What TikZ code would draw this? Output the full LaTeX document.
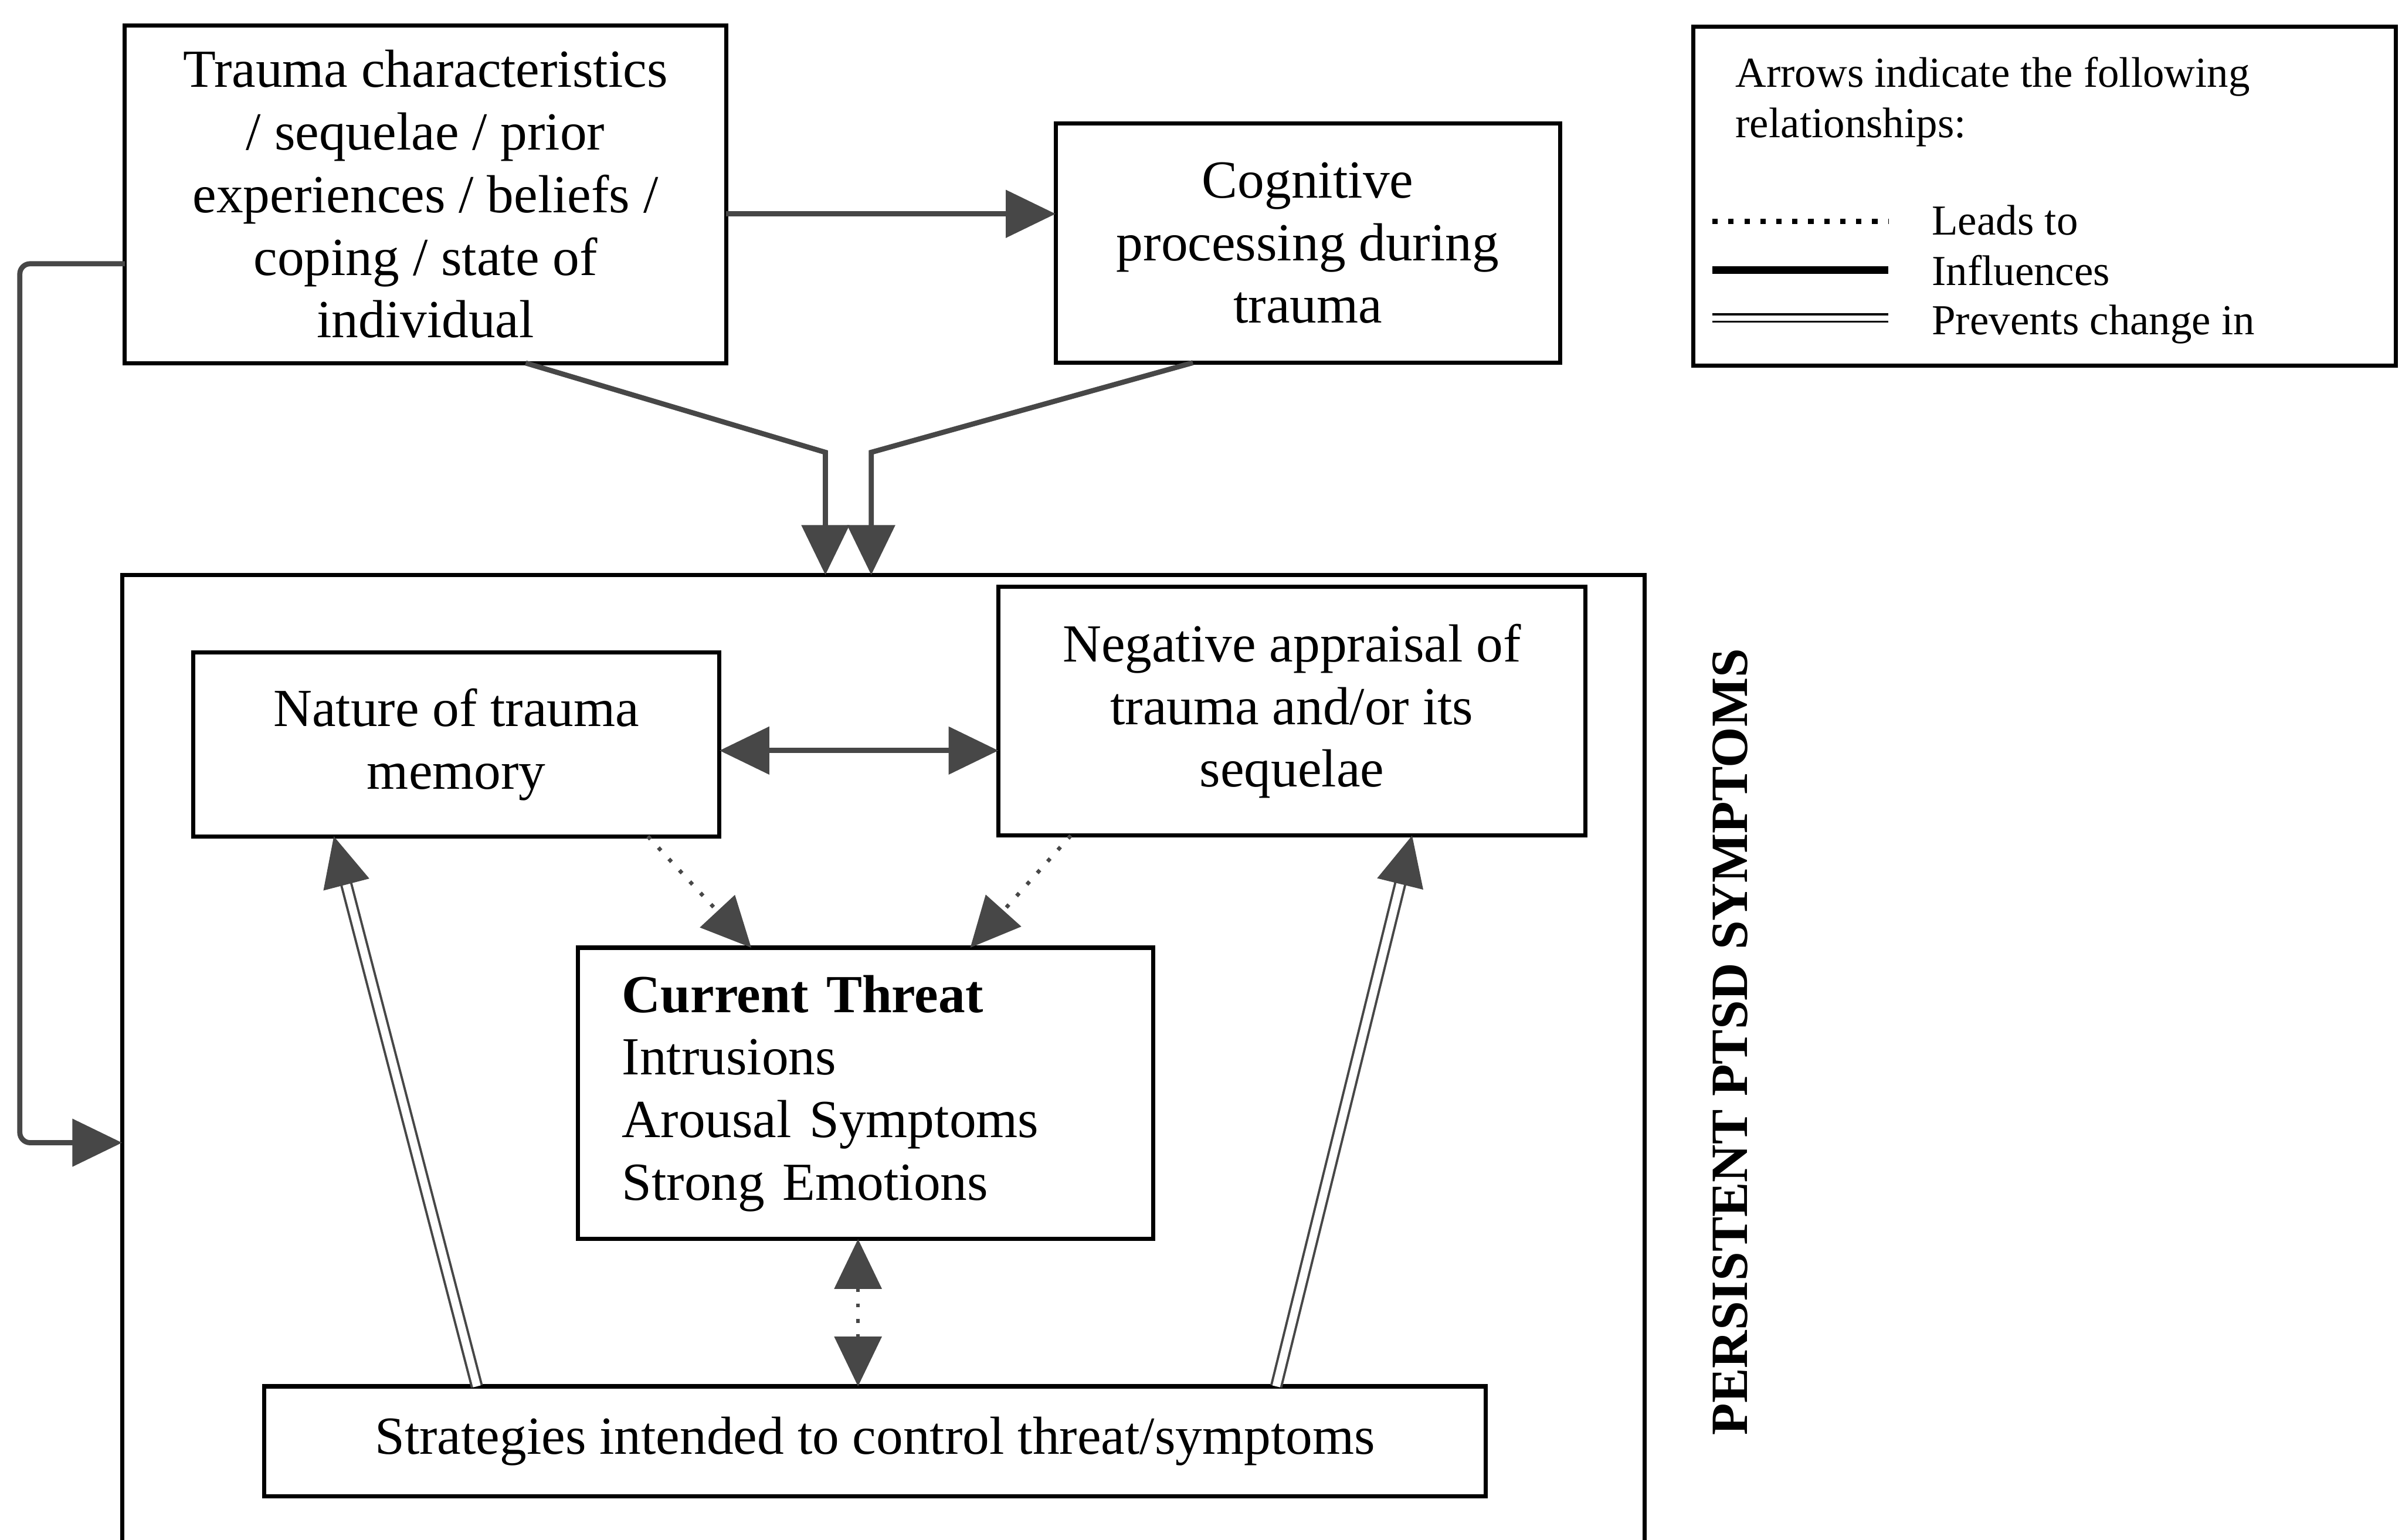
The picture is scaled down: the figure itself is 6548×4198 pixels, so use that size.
\documentclass[tikz,border=0pt]{standalone}
\usepackage{fontspec}
\setmainfont{Liberation Serif}
\usetikzlibrary{arrows.meta,calc}
\newcommand\mainfnt{\fontsize{20.8}{24.3}\selectfont}
\newcommand\legfnt{\fontsize{16.6}{19.6}\selectfont}
\colorlet{arw}{black!72}
\tikzset{
  box/.style={draw=black, line width=1.6pt, inner sep=0pt, outer sep=0pt, align=center, font=\mainfnt},
  tip/.tip={Triangle[length=0.68cm,width=0.64cm]},
  infl/.style={draw=arw, line width=2pt, -tip},
  prev/.style={draw=arw, double=white, double distance=3pt, line width=0.9pt, -tip},
  lead/.style={draw=arw, line width=1.5pt, dash pattern=on 1.5pt off 4.5pt},
  legtext/.style={anchor=base west, font=\legfnt, inner sep=0pt}
}
\begin{document}
\begin{tikzpicture}[x=0.005cm,y=-0.005cm]
\useasboundingbox (0,0) rectangle (6548,4198);
\clip (0,0) rectangle (6548,4198);

% boxes
\node[box, minimum width=8.205cm, minimum height=4.605cm] (trauma) at (1160,529.5)
  {Trauma characteristics\\/ sequelae / prior\\experiences / beliefs /\\coping / state of\\individual};
\node[box, minimum width=6.88cm, minimum height=3.265cm] (cog) at (3565,662.5)
  {Cognitive\\processing during\\trauma};
\node[draw=black, line width=1.6pt, outer sep=0pt, inner sep=0pt, minimum width=9.585cm, minimum height=4.625cm] (legend) at (5573.5,534.5) {};
\node[draw=black, line width=1.6pt, outer sep=0pt, inner sep=0pt, minimum width=20.77cm, minimum height=13.67cm] (big) at (2408,2933) {};
\node[box, minimum width=7.18cm, minimum height=2.505cm] (nature) at (1244,2029.5)
  {Nature of trauma\\memory};
\node[box, minimum width=8.005cm, minimum height=3.395cm] (negative) at (3521.5,1938.5)
  {Negative appraisal of\\trauma and/or its\\sequelae};
\node[box, align=left, text width=6.645cm, inner xsep=0.605cm, minimum height=3.975cm] (threat) at (2359.5,2980.5)
  {\textbf{Current Threat}\\Intrusions\\Arousal Symptoms\\Strong Emotions};
\node[box, minimum width=16.67cm, minimum height=1.5cm] (strat) at (2385,3929)
  {Strategies intended to control threat/symptoms};
\node[font=\fontsize{20.3}{24}\selectfont\bfseries, rotate=90, inner sep=0pt] (ptsd) at (4716,2840)
  {PERSISTENT PTSD SYMPTOMS};

% legend
\node[legtext] (leg1) at (4730,237) {Arrows indicate the following};
\node[legtext] (leg2) at (4730,375) {relationships:};
\node[legtext] (legL) at (5265,640) {Leads to};
\node[legtext] (legI) at (5265,778) {Influences};
\node[legtext] (legP) at (5265,912) {Prevents change in};
\coordinate (ld1) at (4668,603); \coordinate (ld2) at (5147,603);
\coordinate (li1) at (4668,736); \coordinate (li2) at (5147,736);
\coordinate (lp1) at (4668,867); \coordinate (lp2) at (5147,867);
\draw[black, line width=2.1pt, dash pattern=on 2.1pt off 4.1pt] (ld1) -- (ld2);
\draw[black, line width=2.8pt] (li1) -- (li2);
\draw[black, double=white, double distance=1.9pt, line width=0.9pt] (lp1) -- (lp2);

% top arrows
\coordinate (hc) at (2400,583);
\draw[infl] (trauma.east |- hc) -- (cog.west |- hc);
\coordinate (b1) at (2250,1233);
\coordinate (b2) at (2375,1233);
\draw[infl] ($(trauma.south)+(273,0)$) -- (b1) -- (b1 |- big.north);
\draw[infl] ($(cog.south)+(-313,0)$) -- (b2) -- (b2 |- big.north);

% feedback arrow on the left
\coordinate (fa) at (54,719);
\coordinate (fb) at (54,3115);
\draw[infl, rounded corners=4pt] (trauma.west |- fa) -- (fa) -- (fb) -- (big.west |- fb);

% inside the big box
\coordinate (hn) at (2300,2046);
\draw[infl, tip-tip] (nature.east |- hn) -- (negative.west |- hn);
\draw[lead, -tip] ($(nature.south)+(522,0)$) -- ($(threat.north)+(-311.5,0)$);
\draw[lead, -tip] ($(negative.south)+(-602.5,0)$) -- ($(threat.north)+(285.5,0)$);
\coordinate (vt) at (2339,3500);
\draw[lead, tip-tip] (threat.south -| vt) -- (strat.north -| vt);
\draw[prev] ($(strat.north)+(-1085,0)$) -- ($(nature.south)+(-334,0)$);
\draw[prev] ($(strat.north)+(1094,0)$) -- ($(negative.south)+(328,0)$);
\end{tikzpicture}
\end{document}
